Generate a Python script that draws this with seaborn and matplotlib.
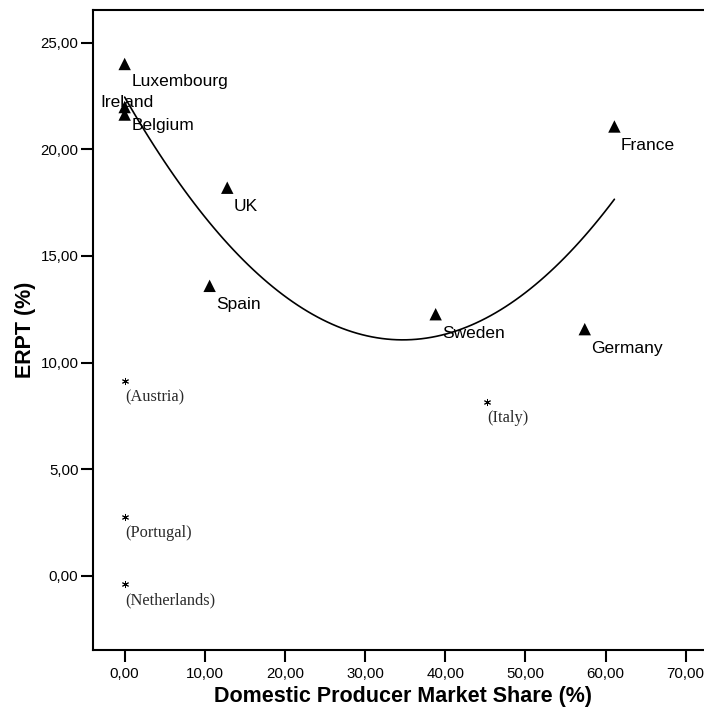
import matplotlib
matplotlib.use("Agg")
import matplotlib.pyplot as plt
import seaborn as sns
import pandas as pd
import numpy as np

# ---- data ----
countries = ["Luxembourg", "Ireland", "Belgium", "UK", "Spain", "Sweden", "Germany", "France"]
market_share = [0.0, 0.0, 0.0, 12.8, 10.6, 38.8, 57.4, 61.1]
erpt = [24.0, 21.98, 21.63, 18.2, 13.6, 12.27, 11.57, 21.07]

outlier_countries = ["(Austria)", "(Portugal)", "(Netherlands)", "(Italy)"]
outlier_share = [0.0, 0.0, 0.0, 45.2]
outlier_erpt = [9.14, 2.75, -0.38, 8.17]

x_ticks = [0, 10, 20, 30, 40, 50, 60, 70]
x_tick_labels = ["0,00", "10,00", "20,00", "30,00", "40,00", "50,00", "60,00", "70,00"]
y_ticks = [0, 5, 10, 15, 20, 25]
y_tick_labels = ["0,00", "5,00", "10,00", "15,00", "20,00", "25,00"]

main = pd.DataFrame({"country": countries, "share": market_share, "erpt": erpt})
outl = pd.DataFrame({"country": outlier_countries, "share": outlier_share, "erpt": outlier_erpt})

# ---- styling ----
sns.set_style("white")
plt.rcParams["font.family"] = ["Liberation Sans", "DejaVu Sans"]
plt.rcParams["text.color"] = "black"
plt.rcParams["axes.labelcolor"] = "black"

W, H = 704, 714
fig = plt.figure(figsize=(W / 100, H / 100), dpi=100)
left_px, right_px, top_px, bottom_px = 93, 713, 10, 650
ax = fig.add_axes([left_px / W, 1 - bottom_px / H,
                   (right_px - left_px) / W, (bottom_px - top_px) / H])

sns.regplot(data=main, x="share", y="erpt", order=2, ci=None, scatter=False,
            truncate=True, ax=ax, line_kws=dict(color="black", lw=1.2))
sns.scatterplot(data=main, x="share", y="erpt", marker="^", s=80, color="black",
                edgecolor="none", ax=ax, zorder=3)
sns.scatterplot(data=outl, x="share", y="erpt", marker=(6, 2, 0), s=20, color="black",
                linewidth=0.7, ax=ax, zorder=3)

px = 0.72  # points per pixel
default_off = (6.5, 23.5)
special = {"Luxembourg": (7, 22, "left"), "Ireland": (2, 0, "center"), "Belgium": (7, 15.5, "left")}
for c, x, y in zip(countries, market_share, erpt):
    dx, dy, ha = special.get(c, (default_off[0], default_off[1], "left"))
    ax.annotate(c, (x, y), xytext=(dx * px, -dy * px), textcoords="offset points",
                ha=ha, va="baseline", fontsize=12.5, color="black")

for c, x, y in zip(outlier_countries, outlier_share, outlier_erpt):
    ax.annotate(c, (x, y), xytext=(0.5 * px, -20 * px), textcoords="offset points",
                ha="left", va="baseline", fontsize=11.8, color="#2a2a2a",
                family=["Liberation Serif", "DejaVu Serif"])

ax.set_xlim(-3.95, 73.4)
ax.set_ylim(-3.47, 26.53)
ax.set_xticks(x_ticks)
ax.set_xticklabels(x_tick_labels)
ax.set_yticks(y_ticks)
ax.set_yticklabels(y_tick_labels)
ax.tick_params(axis="both", direction="out", length=8.5, width=1.5, color="black",
               labelsize=10.8, labelcolor="black", pad=2, bottom=True, left=True)
ax.tick_params(axis="x", pad=4)

for side in ["left", "bottom", "top"]:
    ax.spines[side].set_visible(True)
    ax.spines[side].set_color("black")
    ax.spines[side].set_linewidth(1.5)
ax.spines["right"].set_visible(False)

ax.set_xlabel("Domestic Producer Market Share (%)", fontsize=15.5, fontweight="bold",
              labelpad=3, color="black")
ax.set_ylabel("ERPT (%)", fontsize=15.5, fontweight="bold", labelpad=3, color="black")
ax.grid(False)

fig.savefig("out.png", dpi=100)
